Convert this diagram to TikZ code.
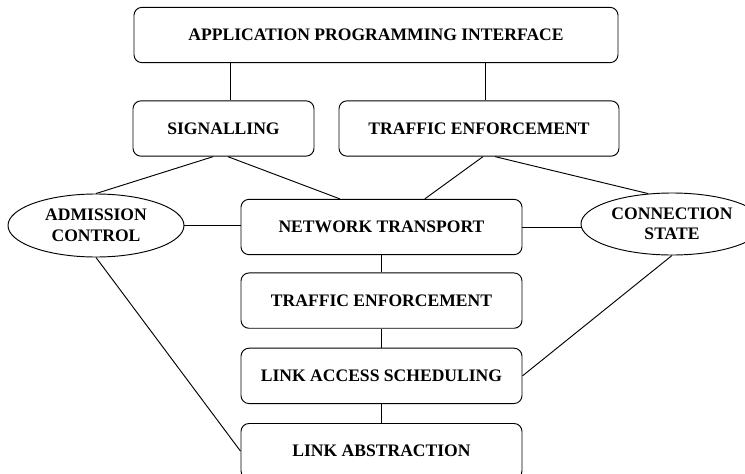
\documentclass[tikz,border=0pt]{standalone}
\usepackage{fontspec}
\setmainfont{Liberation Serif}
\usetikzlibrary{positioning,shapes.geometric}

\tikzset{
  layer/.style={draw, rounded corners=0.24cm, line width=0.8pt, minimum height=1.66cm,
                font=\fontsize{15}{17.5}\selectfont\bfseries},
  side/.style={draw, ellipse, line width=0.8pt, inner sep=0pt, align=center,
               font=\fontsize{15}{17.5}\selectfont\bfseries},
  link/.style={line width=0.8pt}
}

\begin{document}
\begin{tikzpicture}[x=0.03cm, y=-0.03cm, node distance=0.57cm]
  \useasboundingbox (0,0) rectangle (745,474);
  % Define nodes
  \node[layer, minimum width=14.52cm] at (376,35)     (api) {APPLICATION PROGRAMMING INTERFACE};
  \node[layer, minimum width=5.43cm]  at (223.5,128.5) (sig) {SIGNALLING};
  \node[layer, minimum width=8.4cm]   at (479,128.5)   (te)  {TRAFFIC ENFORCEMENT};
  \node[layer, minimum width=8.43cm]  at (381.5,227)   (nt)  {NETWORK TRANSPORT};
  \node[layer, minimum width=8.43cm, below=0.52cm of nt]  (te2) {TRAFFIC ENFORCEMENT};
  \node[layer, minimum width=8.43cm, below=of te2]        (las) {LINK ACCESS SCHEDULING};
  \node[layer, minimum width=8.43cm, below=of las]        (la)  {LINK ABSTRACTION};
  \node[side, minimum width=5.28cm, minimum height=1.89cm] at (96,225.5) (ac) {ADMISSION\\CONTROL};
  \node[side, minimum width=5.46cm, minimum height=1.86cm] at (672,224)  (cs) {CONNECTION\\STATE};

  % Connect the nodes
  \draw[link] ([xshift=0.2cm]sig.north) -- ([xshift=0.2cm]sig.north |- api.south);
  \draw[link] ([xshift=0.18cm]te.north) -- ([xshift=0.18cm]te.north |- api.south);
  \draw[link] ([xshift=-0.31cm]sig.south) -- (ac.north);
  \draw[link] ([xshift=0.13cm]sig.south)  -- ([xshift=-1.25cm]nt.north);
  \draw[link] ([xshift=0.12cm]te.south)   -- ([xshift=1.3cm]nt.north);
  \draw[link] ([xshift=0.48cm]te.south)   -- (cs.128);
  \draw[link] (ac.east) -- (ac.east -| nt.west);
  \draw[link] (nt.east) -- (nt.east -| cs.west);
  \draw[link] (nt) -- (te2);
  \draw[link] (te2) -- (las);
  \draw[link] (las) -- (la);
  \draw[link] (ac.south) -- (la.west);
  \draw[link] (cs.south) -- (las.east);
\end{tikzpicture}
\end{document}
